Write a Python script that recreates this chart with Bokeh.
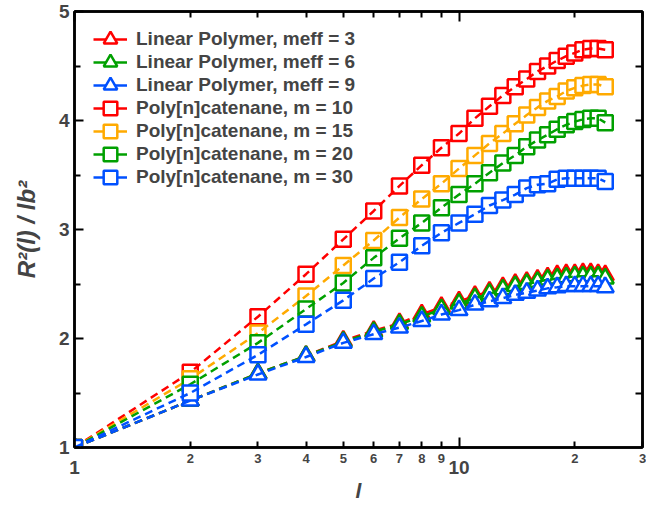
from bokeh.plotting import figure
from bokeh.models import (LogAxis, LinearAxis, FixedTicker, Range1d, Legend, LegendItem,
                          CustomLabelingPolicy)
from bokeh.embed import file_html
from bokeh.resources import INLINE

# ---------------- data ----------------
l_vals = list(range(1, 25))

lin_meff3 = [1.00, 1.43, 1.68, 1.84, 1.98, 2.07, 2.14, 2.22, 2.29, 2.34, 2.39, 2.43,
             2.47, 2.50, 2.52, 2.54, 2.56, 2.58, 2.59, 2.59, 2.60, 2.60, 2.59, 2.58]
lin_meff6 = [1.00, 1.43, 1.68, 1.84, 1.97, 2.06, 2.13, 2.20, 2.27, 2.32, 2.37, 2.41,
             2.45, 2.48, 2.50, 2.52, 2.54, 2.55, 2.56, 2.57, 2.57, 2.57, 2.57, 2.55]
lin_meff9 = [1.00, 1.43, 1.67, 1.83, 1.96, 2.04, 2.10, 2.16, 2.22, 2.26, 2.31, 2.34,
             2.37, 2.40, 2.42, 2.44, 2.46, 2.47, 2.48, 2.48, 2.48, 2.48, 2.48, 2.47]
cat_m10 = [1.00, 1.69, 2.20, 2.59, 2.91, 3.17, 3.40, 3.59, 3.75, 3.88, 4.02, 4.13,
           4.23, 4.31, 4.38, 4.45, 4.50, 4.55, 4.59, 4.62, 4.65, 4.66, 4.66, 4.65]
cat_m15 = [1.00, 1.63, 2.05, 2.39, 2.67, 2.90, 3.11, 3.28, 3.42, 3.56, 3.68, 3.79,
           3.88, 3.97, 4.05, 4.12, 4.18, 4.22, 4.27, 4.30, 4.32, 4.33, 4.33, 4.31]
cat_m20 = [1.00, 1.58, 1.96, 2.27, 2.51, 2.74, 2.92, 3.06, 3.20, 3.32, 3.42, 3.52,
           3.61, 3.68, 3.76, 3.82, 3.87, 3.92, 3.96, 3.99, 4.01, 4.02, 4.02, 3.98]
cat_m30 = [1.00, 1.50, 1.85, 2.13, 2.35, 2.55, 2.70, 2.85, 2.97, 3.06, 3.14, 3.22,
           3.27, 3.32, 3.38, 3.41, 3.42, 3.46, 3.47, 3.47, 3.47, 3.47, 3.47, 3.44]

series_labels = ["Linear Polymer, meff = 3", "Linear Polymer, meff = 6",
                 "Linear Polymer, meff = 9", "Poly[n]catenane, m = 10",
                 "Poly[n]catenane, m = 15", "Poly[n]catenane, m = 20",
                 "Poly[n]catenane, m = 30"]
series_values = [lin_meff3, lin_meff6, lin_meff9, cat_m10, cat_m15, cat_m20, cat_m30]
series_markers = ["triangle", "triangle", "triangle", "square", "square", "square", "square"]
series_colors = ["#ff0000", "#00a000", "#0050ff", "#ff0000", "#ffaa00", "#00a000", "#0050ff"]

x_major_ticks = [1, 10]
x_major_labels = ["1", "10"]
x_minor_ticks = [2, 3, 4, 5, 6, 7, 8, 9, 20, 30]
x_minor_labels = ["2", "3", "4", "5", "6", "7", "8", "9", "2", "3"]
y_ticks = [1, 2, 3, 4, 5]
y_minor_ticks = [1.5, 2.5, 3.5, 4.5]

FONT = "Liberation Sans"

p = figure(width=646, height=504, x_axis_type="log",
           x_range=Range1d(1, 30), y_range=Range1d(1, 5),
           x_axis_location=None, y_axis_location=None,
           output_backend="svg", toolbar_location=None,
           min_border_left=74, min_border_right=2, min_border_top=11, min_border_bottom=0,
           outline_line_color="black", outline_line_width=2.5)
p.grid.visible = False

# legend layout (screen px, measured from the frame's bottom-left)
LEG_X = 19
LEG_TOP = 391
LEG_STEP = 23

for i, (lab, vals, mk, col) in enumerate(zip(series_labels, series_values,
                                              series_markers, series_colors)):
    sc = p.scatter(l_vals, vals, marker=mk, size=15 if mk == "square" else 17,
                   line_color=col, line_width=2.5, fill_color="white")
    p.line(l_vals, vals, line_color=col, line_width=2.5, line_dash="8 5")
    # solid single-point line used only as the legend's line sample
    proxy = p.line(l_vals[:1], vals[:1], line_color=col, line_width=2.5)
    leg = Legend(items=[LegendItem(label=lab, renderers=[proxy, sc])],
                 location=(LEG_X, LEG_TOP - LEG_STEP * i), margin=0, padding=0,
                 glyph_width=34, glyph_height=34, spacing=0, label_standoff=9,
                 label_text_font=FONT, label_text_font_style="bold",
                 label_text_font_size="19px", border_line_color=None,
                 background_fill_alpha=0)
    p.add_layout(leg)

tick_style = dict(major_tick_out=0, minor_tick_out=0, major_tick_line_width=2,
                  minor_tick_line_width=2, axis_line_width=2.5,
                  major_label_text_font=FONT, major_label_text_font_style="bold")

no_labels = CustomLabelingPolicy(code="return new Set()")

# bottom axis with small labels (2..9, 20, 30) and long ticks at 1, 10
ax1 = LogAxis(ticker=FixedTicker(ticks=x_minor_ticks, minor_ticks=x_major_ticks),
              major_label_overrides=dict(zip(x_minor_ticks, x_minor_labels)),
              major_tick_in=6, minor_tick_in=10, major_label_text_font_size="13px",
              major_label_standoff=6, **tick_style)
p.add_layout(ax1, "below")

# second bottom axis carrying the decade labels and the axis title
ax2 = LogAxis(ticker=FixedTicker(ticks=x_major_ticks, minor_ticks=[]),
              major_label_overrides=dict(zip(x_major_ticks, x_major_labels)),
              major_tick_in=0, major_tick_out=0, axis_line_color=None,
              major_tick_line_color=None, minor_tick_line_color=None,
              major_label_text_font=FONT, major_label_text_font_style="bold",
              major_label_text_font_size="19px", major_label_standoff=-5,
              axis_label="l", axis_label_text_font=FONT,
              axis_label_text_font_style="bold italic",
              axis_label_text_font_size="21px", axis_label_standoff=2)
p.add_layout(ax2, "below")

ay = LinearAxis(ticker=FixedTicker(ticks=y_ticks, minor_ticks=y_minor_ticks),
                major_tick_in=9, minor_tick_in=6, major_label_text_font_size="19px",
                major_label_standoff=5,
                axis_label="R²(l) / lb²", axis_label_text_font=FONT,
                axis_label_text_font_style="bold italic",
                axis_label_text_font_size="24px", axis_label_standoff=16,
                **tick_style)
p.add_layout(ay, "left")

# top and right axes: inward ticks only, no labels
top = LogAxis(ticker=FixedTicker(ticks=x_minor_ticks, minor_ticks=x_major_ticks),
              major_tick_in=6, minor_tick_in=10, major_label_text_font_size="1px",
              major_label_standoff=0, major_label_policy=no_labels, **tick_style)
p.add_layout(top, "above")
right = LinearAxis(ticker=FixedTicker(ticks=y_minor_ticks + y_ticks[1:-1], minor_ticks=[]),
                   major_tick_in=7, major_label_text_font_size="1px",
                   major_label_standoff=0, major_label_policy=no_labels, **tick_style)
p.add_layout(right, "right")

open("out.html", "w").write(file_html(p, INLINE))
